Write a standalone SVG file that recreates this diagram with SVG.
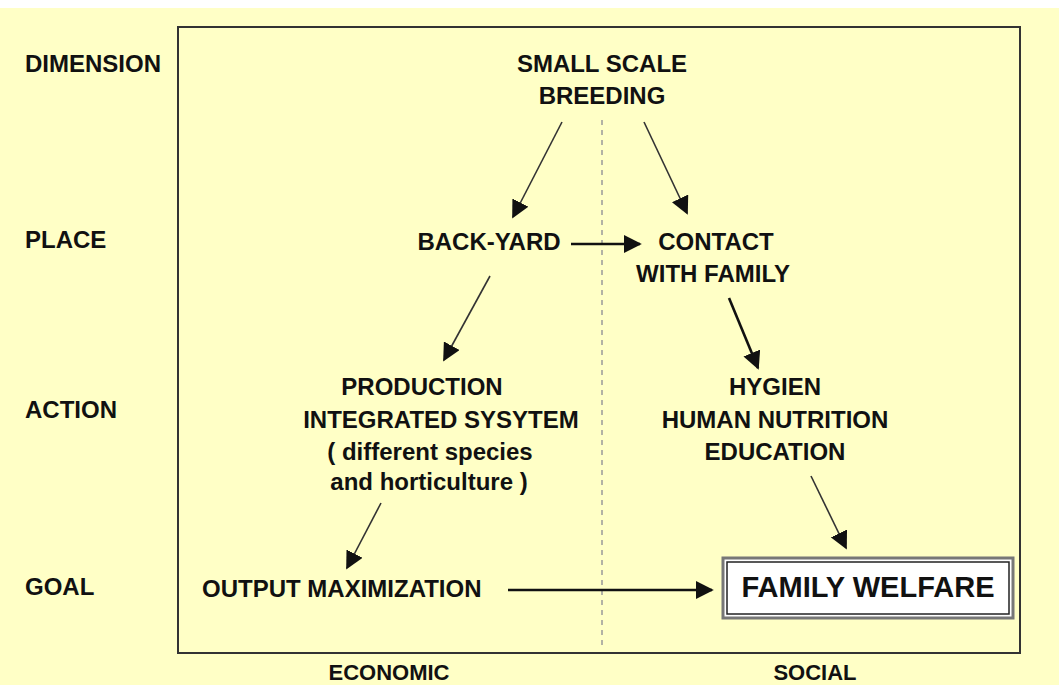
<svg xmlns="http://www.w3.org/2000/svg" width="1059" height="685" viewBox="0 0 1059 685">
<defs>
<style>
.t{font-family:"Liberation Sans",Arial,sans-serif;font-weight:bold;font-size:24px;fill:#111}
.m{text-anchor:middle}
.s{font-size:22px}
.big{font-size:29px}
.c{stroke:#333;stroke-width:1.6;fill:none}
.k{stroke:#111;stroke-width:2.6;fill:none}
</style>
<marker id="ah2" viewBox="0 0 10 10" refX="9" refY="5" markerWidth="18" markerHeight="18" markerUnits="userSpaceOnUse" orient="auto"><path d="M0,0 L10,5 L0,10 z" fill="#111"/></marker>
</defs>
<rect x="0" y="0" width="1059" height="685" fill="#FFFFC6"/>
<rect x="0" y="0" width="1059" height="8" fill="#FFFFFF"/>
<g id="frame">
<rect x="178" y="27" width="842" height="626" fill="none" stroke="#333" stroke-width="2"/>
<line x1="602" y1="120" x2="602" y2="650" stroke="#999" stroke-width="1.5" stroke-dasharray="5,5"/>
</g>
<g id="row-labels">
<text class="t" x="25" y="72">DIMENSION</text>
<text class="t" x="25" y="248">PLACE</text>
<text class="t" x="25" y="418">ACTION</text>
<text class="t" x="25" y="595">GOAL</text>
<text class="t m s" x="389" y="680">ECONOMIC</text>
<text class="t m s" x="815" y="680">SOCIAL</text>
</g>
<g id="n-breeding">
<text class="t m" x="602" y="72">SMALL SCALE</text>
<text class="t m" x="602" y="104">BREEDING</text>
</g>
<g id="n-backyard">
<text class="t m" x="489" y="250">BACK-YARD</text>
</g>
<g id="n-contact">
<text class="t m" x="716" y="250">CONTACT</text>
<text class="t m" x="713" y="282">WITH FAMILY</text>
</g>
<g id="n-production">
<text class="t m" x="422" y="395">PRODUCTION</text>
<text class="t m" x="441" y="428">INTEGRATED SYSYTEM</text>
<text class="t m" x="430" y="460">( different species</text>
<text class="t m" x="429" y="490">and horticulture )</text>
</g>
<g id="n-hygien">
<text class="t m" x="775" y="395">HYGIEN</text>
<text class="t m" x="775" y="428">HUMAN NUTRITION</text>
<text class="t m" x="775" y="460">EDUCATION</text>
</g>
<g id="n-output">
<text class="t" x="202" y="597">OUTPUT MAXIMIZATION</text>
</g>
<g id="n-welfare">
<rect x="723" y="558" width="290" height="60" fill="#fff" stroke="#777" stroke-width="3"/>
<rect x="727" y="562" width="282" height="52" fill="none" stroke="#222" stroke-width="1.5"/>
<text class="t m big" x="868" y="597">FAMILY WELFARE</text>
</g>
<g id="connectors">
<line class="c" x1="562" y1="122" x2="513" y2="217" marker-end="url(#ah2)"/>
<line class="c" x1="644" y1="122" x2="687" y2="213" marker-end="url(#ah2)"/>
<line class="k" x1="571" y1="244" x2="640" y2="244" marker-end="url(#ah2)"/>
<line class="c" x1="490" y1="276" x2="444" y2="360" marker-end="url(#ah2)"/>
<line class="k" x1="729" y1="298" x2="758" y2="368" marker-end="url(#ah2)"/>
<line class="c" x1="381" y1="503" x2="347" y2="568" marker-end="url(#ah2)"/>
<line class="c" x1="811" y1="476" x2="846" y2="548" marker-end="url(#ah2)"/>
<line class="k" x1="508" y1="590" x2="712" y2="590" marker-end="url(#ah2)"/>
</g>
</svg>
